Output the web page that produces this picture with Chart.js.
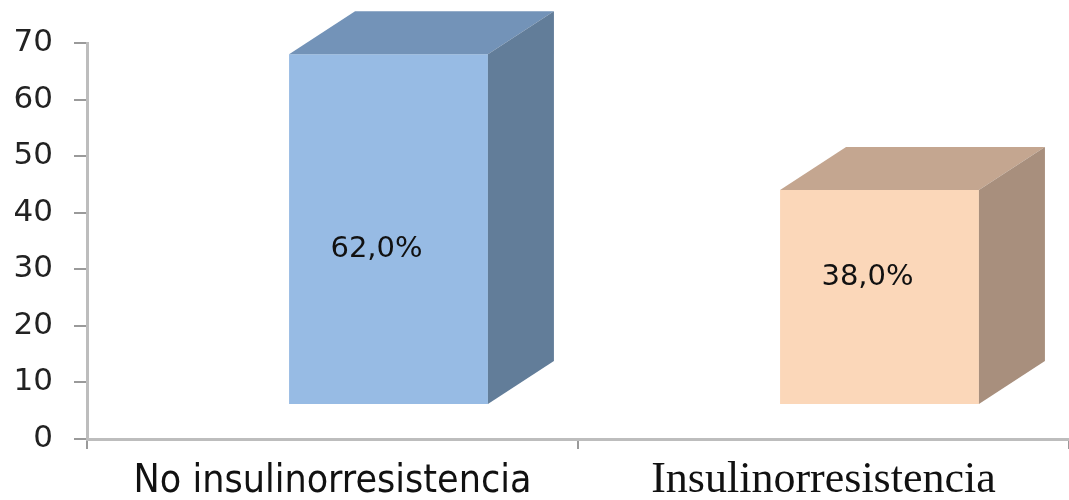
<!DOCTYPE html>
<html lang="es">
<head>
<meta charset="UTF-8">
<title>Insulinorresistencia</title>
<script src="https://cdn.jsdelivr.net/npm/chart.js"></script>
<style>
  html, body { margin: 0; padding: 0; background: #fff; }
  #wrap { width: 1069px; height: 500px; }
</style>
</head>
<body>
<div id="wrap"><canvas id="grafico"></canvas></div>
<script>
const categorias = ["No insulinorresistencia", "Insulinorresistencia"];
const porcentajes = [62, 38];
const yTicks = [0, 10, 20, 30, 40, 50, 60, 70];

// colores de cada cara del prisma
const frente = ["#97BBE4", "#FBD7B9"];
const tapa = ["#7393B8", "#C4A690"];
const lado = ["#627D99", "#A88F7D"];

// desplazamiento de la cara frontal y profundidad del efecto 3D
const frontShift = { x: 56, y: -34 };
const fondo = { x: 66, y: -43 };
const etiquetaAjuste = [20, -20];

const efecto3D = {
  id: "efecto3D",
  beforeDatasetsDraw(chart) {
    chart.ctx.save();
    chart.ctx.translate(frontShift.x, frontShift.y);
  },
  afterDatasetsDraw(chart) {
    const ctx = chart.ctx;
    ctx.restore();
    const meta = chart.getDatasetMeta(0);
    meta.data.forEach((bar, i) => {
      const p = bar.getProps(["x", "y", "base", "width"], true);
      const L = p.x - p.width / 2 + frontShift.x;
      const R = p.x + p.width / 2 + frontShift.x;
      const T = p.y + frontShift.y;
      const B = p.base + frontShift.y;

      ctx.fillStyle = tapa[i];
      ctx.beginPath();
      ctx.moveTo(L, T);
      ctx.lineTo(L + fondo.x, T + fondo.y);
      ctx.lineTo(R + fondo.x, T + fondo.y);
      ctx.lineTo(R, T);
      ctx.closePath();
      ctx.fill();

      ctx.fillStyle = lado[i];
      ctx.beginPath();
      ctx.moveTo(R, T);
      ctx.lineTo(R + fondo.x, T + fondo.y);
      ctx.lineTo(R + fondo.x, B + fondo.y);
      ctx.lineTo(R, B);
      ctx.closePath();
      ctx.fill();

      // etiqueta de porcentaje
      ctx.fillStyle = "#111";
      ctx.font = "29px 'DejaVu Sans', sans-serif";
      ctx.textAlign = "center";
      ctx.textBaseline = "middle";
      const txt = porcentajes[i].toFixed(1).replace(".", ",") + "%";
      ctx.fillText(txt, (L + R) / 2 - 12, (T + B) / 2 + etiquetaAjuste[i]);
    });
  }
};

new Chart(document.getElementById("grafico"), {
  type: "bar",
  data: {
    labels: categorias,
    datasets: [{
      data: porcentajes,
      backgroundColor: frente,
      borderWidth: 0,
      categoryPercentage: 1,
      barPercentage: 0.405
    }]
  },
  options: {
    responsive: true,
    maintainAspectRatio: false,
    animation: false,
    layout: { padding: { top: 43, right: 0, bottom: 0, left: 0 } },
    plugins: { legend: { display: false }, tooltip: { enabled: false } },
    scales: {
      y: {
        min: 0,
        max: 70,
        afterBuildTicks: s => { s.ticks = yTicks.map(v => ({ value: v })); },
        afterFit: s => { s.width = 87; },
        ticks: {
          padding: 21,
          color: "#222",
          font: { family: "'DejaVu Sans', Verdana, sans-serif", size: 31 }
        },
        grid: { drawOnChartArea: false, tickLength: 13, color: "#9a9a9a", lineWidth: 2 },
        border: { color: "#bdbdbd", width: 3 }
      },
      x: {
        afterFit: s => { s.height = 61; },
        ticks: {
          padding: 5,
          color: "#111",
          font: c => c.index === 0
            ? { family: "'DejaVu Sans Condensed', 'DejaVu Sans', sans-serif", size: 39, lineHeight: 1.45 }
            : { family: "'Liberation Serif', 'Times New Roman', serif", size: 44, lineHeight: 1.2 }
        },
        grid: { drawOnChartArea: false, tickLength: 10, color: "#9a9a9a", lineWidth: 2 },
        border: { color: "#bdbdbd", width: 3 }
      }
    }
  },
  plugins: [efecto3D]
});
</script>
</body>
</html>
